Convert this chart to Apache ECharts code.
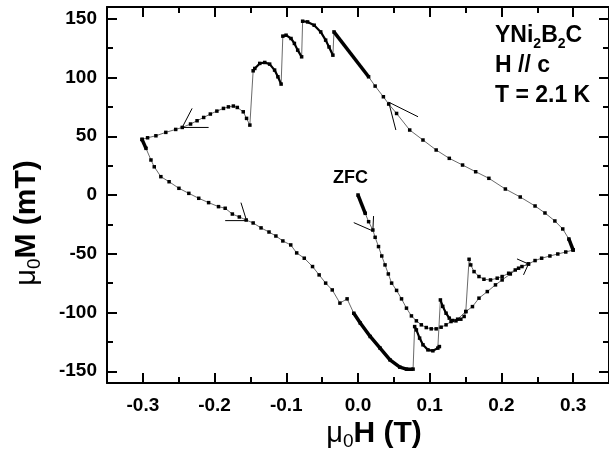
<!DOCTYPE html>
<html>
<head>
<meta charset="utf-8">
<script src="https://cdn.jsdelivr.net/npm/echarts@6/dist/echarts.min.js"></script>
<style>html,body{margin:0;padding:0;background:#fff}#chart{width:609px;height:458px}</style>
</head>
<body>
<div id="chart"></div>
<script>
var zfcBranch = [
  [0, 0], [0.0101, -15.6], [0.0148, -22.7], [0.0207, -29.8], [0.0239, -36], [0.0286, -43.9],
  [0.0331, -51.9], [0.0377, -59.5], [0.0423, -67.2], [0.0469, -75], [0.0538, -81.2], [0.0607, -88.4],
  [0.0676, -96.3], [0.0745, -102.9], [0.0814, -107.1], [0.0883, -110.5], [0.0952, -112.8], [0.1021, -113.9],
  [0.109, -113.9], [0.1159, -112.5], [0.1228, -110.5], [0.1297, -107.7], [0.1389, -105.7], [0.1503, -99.2],
  [0.1596, -95], [0.1687, -87.8], [0.1803, -82.2], [0.1917, -76.5], [0.201, -72.3], [0.2124, -67.2],
  [0.2239, -62.3], [0.2377, -58.7], [0.2469, -55.8], [0.2561, -53.8], [0.2676, -51.9], [0.2786, -50.2],
  [0.2897, -48.5], [0.3, -46.8]
]
var downBranch = [
  [0.3, -46.8], [0.294, -37.4], [0.2855, -28.9], [0.2745, -22.1], [0.2607, -15.3], [0.2469, -9.35],
  [0.2262, -1.7], [0.2055, 5.1], [0.1825, 14.2], [0.1641, 19.8], [0.1458, 25.5], [0.1273, 31.2],
  [0.109, 38.3], [0.0906, 46.8], [0.0721, 55.3], [0.0538, 69.4], [0.0428, 77.4], [0.0354, 83.6],
  [0.0239, 92.7], [0.0148, 100.6], [-0.0335, 138.8], [-0.035, 119], [-0.0404, 126], [-0.0451, 131.8],
  [-0.052, 138.8], [-0.0611, 144.5], [-0.0703, 147.3], [-0.0772, 147.9], [-0.0786, 117.6], [-0.0841, 123.3],
  [-0.0887, 129], [-0.0934, 133.2], [-0.1003, 136], [-0.1048, 135.2], [-0.1072, 94.4], [-0.1117, 100.6],
  [-0.1163, 106.3], [-0.1232, 111.4], [-0.13, 112.8], [-0.137, 112], [-0.1439, 107.7], [-0.1462, 105.7],
  [-0.1508, 59.5], [-0.1554, 65.2], [-0.16, 70.8], [-0.1683, 74.5], [-0.1738, 75.7], [-0.1807, 75],
  [-0.1876, 73.7], [-0.1968, 71.4], [-0.2059, 68.9], [-0.2152, 66], [-0.2244, 63.2], [-0.2335, 60.4],
  [-0.2451, 57.5], [-0.2542, 55.8], [-0.268, 53.3], [-0.2818, 50.4], [-0.2934, 48.7], [-0.3011, 47.3]
]
var upBranch = [
  [-0.3011, 47.3], [-0.2956, 39.7], [-0.2887, 29.8], [-0.2841, 24], [-0.2749, 15.6], [-0.2634, 11.3],
  [-0.2497, 5.7], [-0.2359, 1.4], [-0.2221, -2.8], [-0.2083, -6.5], [-0.1945, -9.9], [-0.1852, -11.3],
  [-0.1752, -16.2], [-0.1655, -18.7], [-0.1559, -21.3], [-0.1462, -23.8], [-0.1352, -28], [-0.1241, -31.5],
  [-0.1145, -34.9], [-0.1048, -39.1], [-0.0938, -42.5], [-0.0855, -49.3], [-0.0749, -53.8], [-0.0634, -60.9],
  [-0.0542, -68], [-0.0451, -75], [-0.0359, -80.8], [-0.0252, -92], [-0.0152, -88.4], [-0.0059, -100.6],
  [0.0032, -109], [0.017, -120.4], [0.0308, -130.3], [0.0446, -140.3], [0.0583, -146.5], [0.0676, -148.2],
  [0.0768, -148.2], [0.079, -112], [0.0814, -114.8], [0.0859, -121.8], [0.0906, -127.5], [0.0975, -131.8],
  [0.1044, -132.6], [0.1113, -130.3], [0.1135, -129], [0.1149, -89.3], [0.1182, -94.8], [0.1228, -100.6],
  [0.1273, -104.8], [0.132, -106.8], [0.1366, -107.1], [0.1434, -105.7], [0.148, -103.4], [0.1503, -99.2],
  [0.1549, -54.7], [0.1572, -59.5], [0.1618, -65.2], [0.1687, -69.4], [0.1756, -71.7], [0.1848, -72.3],
  [0.1941, -70.8], [0.201, -69.4], [0.2101, -66.6], [0.2193, -63.8], [0.2286, -60.9], [0.2377, -58.7]
]
// stretches where the points crowd into a solid line
var thickParts = [
  [[0, 0], [0.0101, -15.6]],
  [[0.0148, 100.6], [-0.0335, 138.8]],
  [[-0.0059, -100.6], [0.0032, -109], [0.017, -120.4], [0.0308, -130.3], [0.0446, -140.3], [0.0583, -146.5], [0.0676, -148.2], [0.0768, -148.2]],
  [[-0.3011, 47.3], [-0.2956, 39.7]],
  [[0.3, -46.8], [0.294, -37.4]]
]
var denseParts = [
  [[-0.035, 119], [-0.0404, 126], [-0.0451, 131.8], [-0.052, 138.8], [-0.0611, 144.5], [-0.0703, 147.3], [-0.0772, 147.9]],
  [[-0.0786, 117.6], [-0.0841, 123.3], [-0.0887, 129], [-0.0934, 133.2], [-0.1003, 136], [-0.1048, 135.2]],
  [[-0.1072, 94.4], [-0.1117, 100.6], [-0.1163, 106.3], [-0.1232, 111.4], [-0.13, 112.8], [-0.137, 112], [-0.1439, 107.7], [-0.1462, 105.7]],
  [[0.079, -112], [0.0814, -114.8], [0.0859, -121.8], [0.0906, -127.5], [0.0975, -131.8], [0.1044, -132.6], [0.1113, -130.3], [0.1135, -129]],
  [[0.1149, -89.3], [0.1182, -94.8], [0.1228, -100.6], [0.1273, -104.8]]
]
// sweep direction arrows: arm, tip, arm
var arrows = [
  [[-0.2083, 57.5], [-0.2451, 57.5], [-0.2313, 73.7]],
  [[0.0837, 66.6], [0.0428, 79], [0.0528, 55.3]],
  [[-0.1852, -21.8], [-0.1554, -21.8], [-0.1632, -6.5]],
  [[-0.0059, -23.5], [0.0207, -30.6], [0.0217, -17.9]],
  [[0.2217, -54.4], [0.2377, -58.7], [0.2308, -68]]
]
var xMajor = [-0.3, -0.2, -0.1, 0, 0.1, 0.2, 0.3]
var xMinor = [-0.25, -0.15, -0.05, 0.05, 0.15, 0.25]
var yMajor = [-150, -100, -50, 0, 50, 100, 150]
var yMinor = [-125, -75, -25, 25, 75, 125]

var font = "'Liberation Sans', Arial, sans-serif"
var chart = echarts.init(document.getElementById('chart'))

function xAxisOf(position, ticks, len, labels) {
  return {
    type: 'value', position: position, min: -0.35, max: 0.35,
    axisLine: { show: len === 10, onZero: false, lineStyle: { color: '#000', width: 2 } },
    axisTick: { inside: true, length: len, customValues: ticks, lineStyle: { color: '#000', width: 2 } },
    axisLabel: labels ? {
      customValues: ticks, margin: 13, color: '#000', fontSize: 19, fontWeight: 'bold', fontFamily: font,
      formatter: function(v) { return v.toFixed(1) }
    } : { show: false },
    splitLine: { show: false }
  }
}
function yAxisOf(position, ticks, len, labels) {
  return {
    type: 'value', position: position, min: -160, max: 160,
    axisLine: { show: len === 10, onZero: false, lineStyle: { color: '#000', width: 2 } },
    axisTick: { inside: true, length: len, customValues: ticks, lineStyle: { color: '#000', width: 2 } },
    axisLabel: labels ? {
      customValues: ticks, margin: 10, color: '#000', fontSize: 19, fontWeight: 'bold', fontFamily: font
    } : { show: false },
    splitLine: { show: false }
  }
}

var nameRich = {
  m: { fontSize: 29, fontFamily: font, fill: '#000', lineHeight: 34 },
  s: { fontSize: 19, fontFamily: font, fill: '#000', lineHeight: 6, verticalAlign: 'bottom' },
  a: { fontSize: 30, fontWeight: 'bold', fontFamily: font, fill: '#000', lineHeight: 34 }
}
function axisTitle(text, x, y, rotation) {
  return {
    type: 'text', x: x, y: y, rotation: rotation, silent: true,
    style: {
      text: text, rich: nameRich, fill: '#000',
      align: 'center', verticalAlign: 'middle', textAlign: 'center', textVerticalAlign: 'middle'
    }
  }
}

var series = []
function addLine(data, opts) {
  series.push(Object.assign({
    type: 'line', data: data, xAxisIndex: 0, yAxisIndex: 0, silent: true, animation: false,
    symbol: 'none', lineStyle: { color: '#000', width: 1 }
  }, opts))
}
var dotted = { symbol: 'rect', symbolSize: 3.5, itemStyle: { color: '#000' }, lineStyle: { color: '#444', width: 0.8 } }
addLine(zfcBranch, dotted)
addLine(downBranch, dotted)
addLine(upBranch, dotted)
thickParts.forEach(function(p) { addLine(p, { lineStyle: { color: '#000', width: 3.5 } }) })
denseParts.forEach(function(p) { addLine(p, { lineStyle: { color: '#000', width: 2.2 } }) })
arrows.forEach(function(p) { addLine(p, { lineStyle: { color: '#000', width: 1 } }) })

chart.setOption({
  backgroundColor: '#fff',
  animation: false,
  grid: { left: 107, top: 7, right: -6, bottom: 75, containLabel: false },
  title: [
    {
      left: 495, top: 21, padding: 0,
      text: '{a|YNi}{s|2}{a|B}{s|2}{a|C}\n{a|H // c}\n{a|T = 2.1 K}',
      textStyle: {
        rich: {
          a: { fontSize: 23, fontWeight: 'bold', fontFamily: font, color: '#000', lineHeight: 30 },
          s: { fontSize: 14, fontWeight: 'bold', fontFamily: font, color: '#000', lineHeight: 5, verticalAlign: 'bottom' }
        }
      }
    },
    {
      left: 333, top: 169, padding: 0, text: 'ZFC',
      textStyle: { fontSize: 18, fontWeight: 'bold', fontFamily: font, color: '#000', lineHeight: 18 }
    }
  ],
  graphic: [
    axisTitle('{m|μ}{s|0}{a|H (T)}', 374, 434, 0),
    axisTitle('{m|μ}{s|0}{a|M (mT)}', 27, 223, Math.PI / 2)
  ],
  xAxis: [
    xAxisOf('bottom', xMajor, 10, true),
    xAxisOf('bottom', xMinor, 6, false),
    xAxisOf('top', xMajor, 10, false),
    xAxisOf('top', xMinor, 6, false)
  ],
  yAxis: [
    yAxisOf('left', yMajor, 10, true),
    yAxisOf('left', yMinor, 6, false),
    yAxisOf('right', yMajor, 10, false),
    yAxisOf('right', yMinor, 6, false)
  ],
  series: series
})
</script>
</body>
</html>
